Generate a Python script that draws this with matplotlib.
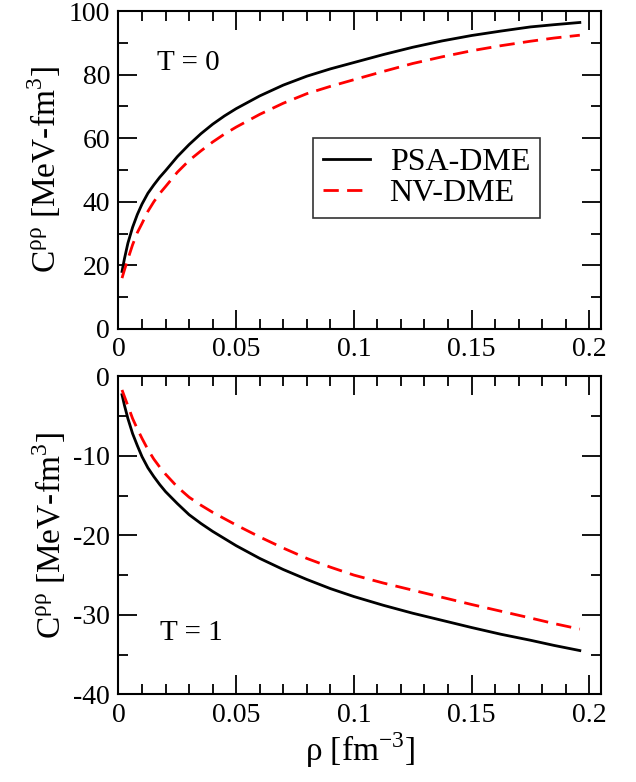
import numpy as np
import matplotlib
matplotlib.use("Agg")
import matplotlib.pyplot as plt
from matplotlib.ticker import MultipleLocator, FuncFormatter

plt.rcParams['font.family'] = ['Liberation Serif', 'DejaVu Serif']
plt.rcParams['mathtext.fontset'] = 'custom'
plt.rcParams['mathtext.rm'] = 'Liberation Serif'
plt.rcParams['axes.unicode_minus'] = False

# density grid [fm^-3]
rho = [0.0015, 0.0025, 0.004, 0.006, 0.008, 0.01, 0.0125, 0.015, 0.0175, 0.02,
       0.025, 0.03, 0.035, 0.04, 0.045, 0.05, 0.06, 0.07, 0.08, 0.09, 0.10,
       0.1125, 0.125, 0.1375, 0.15, 0.1625, 0.175, 0.185, 0.196]

# T = 0
psa_t0 = [18.1, 22.0, 27.0, 32.0, 36.0, 39.3, 42.7, 45.3, 47.7, 49.8,
          54.2, 58.0, 61.4, 64.4, 67.0, 69.3, 73.3, 76.7, 79.5, 81.8, 83.8,
          86.3, 88.6, 90.6, 92.3, 93.7, 95.0, 95.7, 96.4]
nv_t0 = [16.0, 18.5, 22.0, 26.5, 30.3, 33.2, 37.0, 40.0, 42.6, 44.8,
         49.3, 53.0, 56.0, 58.8, 61.3, 63.5, 67.5, 71.0, 74.0, 76.3, 78.4,
         81.0, 83.5, 85.6, 87.5, 89.1, 90.5, 91.5, 92.4]

# T = 1
psa_t1 = [-2.3, -3.6, -5.3, -7.2, -8.7, -10.1, -11.5, -12.6, -13.6, -14.5,
          -16.0, -17.4, -18.5, -19.5, -20.4, -21.3, -22.9, -24.3, -25.55, -26.7, -27.7,
          -28.8, -29.8, -30.7, -31.6, -32.45, -33.2, -33.85, -34.5]
nv_t1 = [-1.7, -2.5, -3.7, -5.3, -6.6, -7.8, -9.2, -10.4, -11.4, -12.3,
         -13.9, -15.2, -16.2, -17.1, -17.9, -18.7, -20.2, -21.6, -22.9, -24.0, -25.0,
         -26.0, -26.9, -27.8, -28.7, -29.55, -30.4, -31.1, -31.8]

fig = plt.figure(figsize=(6.36, 7.82), dpi=100)
ax1 = fig.add_axes([0.1863, 0.5793, 0.7587, 0.4066])
ax2 = fig.add_axes([0.1863, 0.1122, 0.7587, 0.4064])

lw = 2.0
for ax, psa, nv in [(ax1, psa_t0, nv_t0), (ax2, psa_t1, nv_t1)]:
    ax.plot(rho, psa, color='black', lw=lw, label='PSA-DME')
    ax.plot(rho, nv, color='red', lw=lw, dashes=(5.5, 3), label='NV-DME')
    ax.set_xlim(0, 0.205)
    ax.xaxis.set_major_locator(MultipleLocator(0.05))
    ax.xaxis.set_minor_locator(MultipleLocator(0.01))
    ax.xaxis.set_major_formatter(FuncFormatter(lambda v, p: f'{v:g}'))
    ax.tick_params(which='both', direction='in', top=True, right=True,
                   labelsize=20, width=1.3, pad=6)
    ax.tick_params(which='major', length=13.5)
    ax.tick_params(which='minor', length=7)
    for s in ax.spines.values():
        s.set_linewidth(1.5)
    ax.set_ylabel(r'C$^{\mathregular{\rho\rho}}$ [MeV-fm$^{\mathregular{3}}$]',
                  fontsize=24, labelpad=4)

ax1.set_ylim(0, 100)
ax1.yaxis.set_major_locator(MultipleLocator(20))
ax1.yaxis.set_minor_locator(MultipleLocator(10))
ax1.text(0.08, 0.814, 'T = 0', transform=ax1.transAxes, fontsize=21)

ax2.set_ylim(-40, 0)
ax2.yaxis.set_major_locator(MultipleLocator(10))
ax2.yaxis.set_minor_locator(MultipleLocator(5))
ax2.text(0.086, 0.171, 'T = 1', transform=ax2.transAxes, fontsize=21)
ax2.set_xlabel(r'ρ [fm$^{\mathregular{-3}}$]', fontsize=24, labelpad=2)

leg = ax1.legend(loc='upper left', bbox_to_anchor=(0.403, 0.6006),
                 borderaxespad=0, fontsize=23, frameon=True, fancybox=False,
                 handlelength=1.5, handletextpad=0.6, labelspacing=0.05,
                 borderpad=0.3)
leg.get_frame().set_edgecolor('black')
leg.get_frame().set_linewidth(1.2)

fig.savefig('out.png', dpi=100)
